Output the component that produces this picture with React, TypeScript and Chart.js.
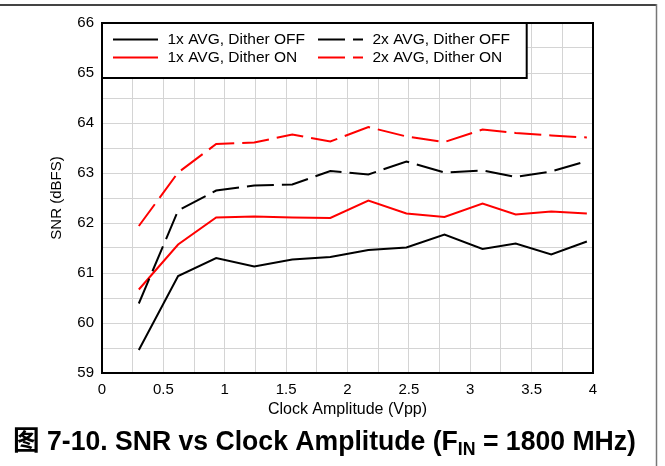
import React, { useEffect, useRef } from "react";
import { Chart, registerables } from "chart.js";

Chart.register(...registerables);

const clockAmplitude = [0.3, 0.62, 0.93, 1.24, 1.55, 1.86, 2.17, 2.48, 2.79, 3.1, 3.37, 3.66, 3.95];
const avg1DitherOff = [59.46, 60.94, 61.3, 61.13, 61.27, 61.32, 61.46, 61.51, 61.77, 61.48, 61.59, 61.37, 61.63];
const avg2DitherOff = [60.39, 62.25, 62.65, 62.75, 62.77, 63.04, 62.97, 63.23, 63.01, 63.05, 62.92, 63.03, 63.24];
const avg1DitherOn = [60.67, 61.57, 62.11, 62.13, 62.11, 62.1, 62.45, 62.19, 62.12, 62.39, 62.17, 62.23, 62.19];
const avg2DitherOn = [61.94, 63.01, 63.58, 63.61, 63.77, 63.63, 63.92, 63.73, 63.62, 63.87, 63.8, 63.75, 63.71];

const seriesNames = ["1x AVG, Dither OFF", "2x AVG, Dither OFF", "1x AVG, Dither ON", "2x AVG, Dither ON"];
const xTitle = "Clock Amplitude (Vpp)";
const yTitle = "SNR (dBFS)";

const FONT = '"Liberation Sans", Arial, sans-serif';
const DASH = [27, 8];

const toPts = (ys: number[]) => ys.map((y, i) => ({ x: clockAmplitude[i], y }));

const decorPlugin = {
  id: "decor",
  afterDatasetsDraw(chart: any) {
    const { ctx, chartArea: a } = chart;
    ctx.save();
    // plot border
    ctx.strokeStyle = "#000";
    ctx.lineWidth = 2;
    ctx.strokeRect(a.left, a.top, a.right - a.left, a.bottom - a.top);

    // legend box
    const lx = a.left, ly = a.top, lw = 526.7 - a.left, lh = 78 - a.top;
    ctx.fillStyle = "#fff";
    ctx.fillRect(lx, ly, lw, lh);
    ctx.strokeRect(lx, ly, lw, lh);
    const items = [
      { name: seriesNames[0], color: "#000", dash: [], x: 113, y: 39.5 },
      { name: seriesNames[1], color: "#000", dash: DASH, x: 318, y: 39.5 },
      { name: seriesNames[2], color: "#ff0000", dash: [], x: 113, y: 57.5 },
      { name: seriesNames[3], color: "#ff0000", dash: DASH, x: 318, y: 57.5 },
    ];
    ctx.font = `15.5px ${FONT}`;
    ctx.textBaseline = "middle";
    ctx.textAlign = "left";
    for (const it of items) {
      ctx.beginPath();
      ctx.setLineDash(it.dash);
      ctx.strokeStyle = it.color;
      ctx.lineWidth = 2;
      ctx.moveTo(it.x, it.y);
      ctx.lineTo(it.x + 45, it.y);
      ctx.stroke();
      ctx.setLineDash([]);
      ctx.fillStyle = "#000";
      ctx.fillText(it.name, it.x + 54.5, it.y + 0.5);
    }
    ctx.restore();
  },
  afterDraw(chart: any) {
    const { ctx } = chart;
    ctx.save();
    // outer frame (top and right)
    ctx.strokeStyle = "#444";
    ctx.lineWidth = 2;
    ctx.beginPath();
    ctx.moveTo(0, 5);
    ctx.lineTo(657, 5);
    ctx.stroke();
    ctx.strokeStyle = "#777";
    ctx.lineWidth = 1.5;
    ctx.beginPath();
    ctx.moveTo(656.5, 4);
    ctx.lineTo(656.5, 466);
    ctx.stroke();

    // caption
    ctx.fillStyle = "#000";
    ctx.textBaseline = "alphabetic";
    ctx.textAlign = "left";
    const big = `bold 27px ${FONT}, "Noto Sans CJK SC"`;
    const small = `bold 18px ${FONT}`;
    const base = 450;
    ctx.translate(13, 0);
    ctx.scale(0.985, 1);
    let x = 0;
    const parts: [string, string, number][] = [
      ["图 7-10. SNR vs Clock Amplitude (F", big, 0],
      ["IN", small, 5],
      [" = 1800 MHz)", big, 0],
    ];
    for (const [t, f, dy] of parts) {
      ctx.font = f;
      ctx.fillText(t, x, base + dy);
      x += ctx.measureText(t).width;
    }
    ctx.restore();
  },
};

export default function App() {
  const ref = useRef<HTMLCanvasElement>(null);
  useEffect(() => {
    document.body.style.margin = "0";
    const mk = (label: string, data: number[], color: string, dash: number[]) => ({
      label,
      data: toPts(data),
      borderColor: color,
      backgroundColor: color,
      borderWidth: 2,
      borderDash: dash,
      pointRadius: 0,
      tension: 0,
      fill: false,
    });
    const chart = new Chart(ref.current!, {
      type: "line",
      data: {
        datasets: [
          mk(seriesNames[0], avg1DitherOff, "#000", []),
          mk(seriesNames[1], avg2DitherOff, "#000", DASH),
          mk(seriesNames[2], avg1DitherOn, "#ff0000", []),
          mk(seriesNames[3], avg2DitherOn, "#ff0000", DASH),
        ],
      },
      options: {
        animation: false,
        responsive: false,
        maintainAspectRatio: false,
        layout: { padding: { left: 48, right: 72, top: 23, bottom: 47 } },
        plugins: { legend: { display: false }, tooltip: { enabled: false } },
        scales: {
          x: {
            type: "linear",
            min: 0,
            max: 4,
            afterFit: (s: any) => { s.height = 46; },
            ticks: {
              stepSize: 0.25,
              autoSkip: false,
              maxRotation: 0,
              padding: 8,
              color: "#000",
              font: { family: FONT, size: 15 },
              callback: (v: any) => (Math.abs((v * 2) - Math.round(v * 2)) < 1e-6 ? String(v) : ""),
            },
            grid: { color: "#d4d4d4", lineWidth: 1, drawTicks: false },
            border: { display: false },
            title: { display: true, text: xTitle, color: "#000", font: { family: FONT, size: 16 }, padding: 0 },
          },
          y: {
            min: 59,
            max: 66,
            afterFit: (s: any) => { s.width = 54; },
            ticks: {
              stepSize: 0.5,
              autoSkip: false,
              padding: 8,
              color: "#000",
              font: { family: FONT, size: 15 },
              callback: (v: any) => (Number.isInteger(v) ? String(v) : ""),
            },
            grid: { color: "#d4d4d4", lineWidth: 1, drawTicks: false },
            border: { display: false },
            title: { display: true, text: yTitle, color: "#000", font: { family: FONT, size: 15 }, padding: 0 },
          },
        },
      },
      plugins: [decorPlugin],
    });
    return () => chart.destroy();
  }, []);
  return (
    <div style={{ position: "absolute", left: 0, top: 0, width: 665, height: 466, background: "#fff" }}>
      <canvas ref={ref} width={665} height={466} style={{ width: 665, height: 466, display: "block" }} />
    </div>
  );
}
